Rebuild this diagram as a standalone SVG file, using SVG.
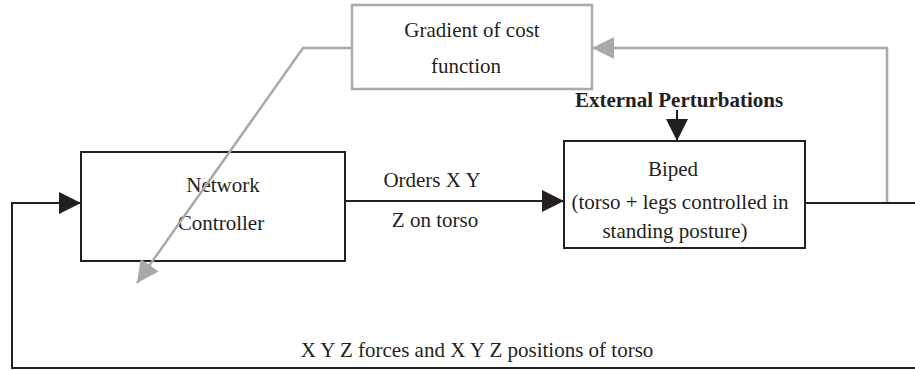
<svg xmlns="http://www.w3.org/2000/svg" width="915" height="371" viewBox="0 0 915 371">
<style>
text{font-family:"Liberation Serif","Times New Roman",serif;font-size:21px;fill:#231f20;text-anchor:middle}
.b{font-weight:bold}
.box{fill:#fff;stroke:#231f20;stroke-width:2}
.gbox{fill:#fff;stroke:#a7a9ac;stroke-width:2.5}
.k{fill:none;stroke:#231f20;stroke-width:2}
.g{fill:none;stroke:#a7a9ac;stroke-width:2.5}
</style>
<defs>
<marker id="ak" markerUnits="userSpaceOnUse" markerWidth="22" markerHeight="22" refX="22" refY="11" orient="auto" viewBox="0 0 22 22"><path d="M0,0 L22,11 L0,22 Z" fill="#231f20"/></marker>
<marker id="ag" markerUnits="userSpaceOnUse" markerWidth="22" markerHeight="22" refX="22" refY="11" orient="auto" viewBox="0 0 22 22"><path d="M0,0 L22,11 L0,22 Z" fill="#a7a9ac"/></marker>
</defs>
<g id="gradient">
<rect class="gbox" x="352" y="5" width="240" height="84"/>
<text x="472" y="37">Gradient of cost</text>
<text x="466" y="73">function</text>
</g>
<g id="perturbations">
<text class="b" x="679" y="107">External Perturbations</text>
</g>
<g id="network">
<rect class="box" x="81" y="152" width="264" height="109"/>
<text x="223" y="192">Network</text>
<text x="221" y="230">Controller</text>
</g>
<g id="biped">
<rect class="box" x="564" y="141" width="241" height="107"/>
<text x="673" y="176">Biped</text>
<text x="680" y="209">(torso + legs controlled in</text>
<text x="675" y="238">standing posture)</text>
</g>
<g id="connectors">
<path class="k" d="M677,110 L677,141" marker-end="url(#ak)"/>
<path class="k" d="M345,201 L564,201" marker-end="url(#ak)"/>
<path class="k" d="M805,203 L915,203"/>
<path class="k" d="M915,368 L12,368 L12,203 L81,203" marker-end="url(#ak)"/>
<path class="g" d="M887,202 L887,48 L592,48" marker-end="url(#ag)"/>
<path class="g" d="M352,48 L303,48 L137,283" marker-end="url(#ag)"/>
<text x="432" y="187">Orders X Y</text>
<text x="435" y="227">Z on torso</text>
<text x="477" y="357">X Y Z forces and X Y Z positions of torso</text>
</g>
</svg>
